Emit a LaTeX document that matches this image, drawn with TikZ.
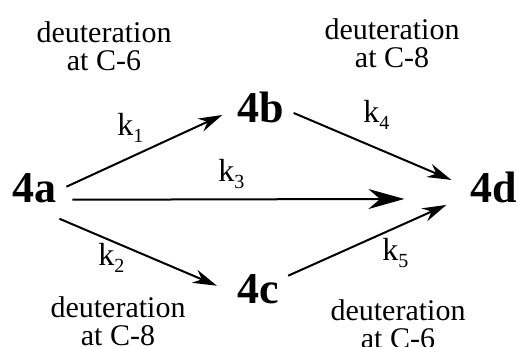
\documentclass[tikz,border=0pt]{standalone}
\usepackage{fontspec}
\setmainfont{Liberation Serif}
\usetikzlibrary{arrows.meta,calc}
\newcommand{\krate}[1]{k\raisebox{-3.5pt}{\fontsize{10}{12}\selectfont #1}}
\tikzset{
  cmpd/.style={inner sep=0pt,anchor=base,font=\fontsize{22}{26}\selectfont\bfseries},
  rate/.style={inner sep=0pt,anchor=base west,font=\fontsize{16}{19}\selectfont},
  site/.style={inner sep=0pt,align=center,font=\fontsize{15}{14}\selectfont},
  rxn/.style={-{Stealth[length=12pt,width=7pt]},line width=1pt},
  rxnlong/.style={-{Stealth[length=18pt,width=10pt]},line width=1pt}
}

\begin{document}
\begin{tikzpicture}[x=0.5pt,y=-0.5pt]
\useasboundingbox (0,0) rectangle (519,347);
\node[cmpd] (a4) at (34,203) {4a};
\node[cmpd] (b4) at (261,123) {4b};
\node[cmpd] (c4) at (258,303) {4c};
\node[cmpd] (d4) at (494,203) {4d};
\node[site] (sb) at (104,46) {deuteration\\at C-6};
\node[site] (sd1) at (392,43) {deuteration\\at C-8};
\node[site] (sc) at (118,321) {deuteration\\at C-8};
\node[site] (sd2) at (398,324) {deuteration\\at C-6};
\node[rate] (k1) at (117,136) {\krate{1}};
\node[rate] (k2) at (98,265) {\krate{2}};
\node[rate] (k3) at (218,182) {\krate{3}};
\node[rate] (k4) at (363,123) {\krate{4}};
\node[rate] (k5) at (382,261) {\krate{5}};
\draw[rxn] ($(a4.east)+(10,-2)$) -- ($(b4.west)+(-15,7)$);
\draw[rxn] ($(a4.east)+(3,30)$) -- ($(c4.west)+(-20,-3)$);
\draw[rxnlong] ($(a4.east)+(16,11)$) -- ($(d4.west)+(-66,11)$);
\draw[rxn] ($(b4.east)+(9,5)$) -- ($(d4.west)+(-19,-8)$);
\draw[rxn] ($(c4.east)+(9,-13)$) -- ($(d4.west)+(-24,17)$);
\end{tikzpicture}
\end{document}
